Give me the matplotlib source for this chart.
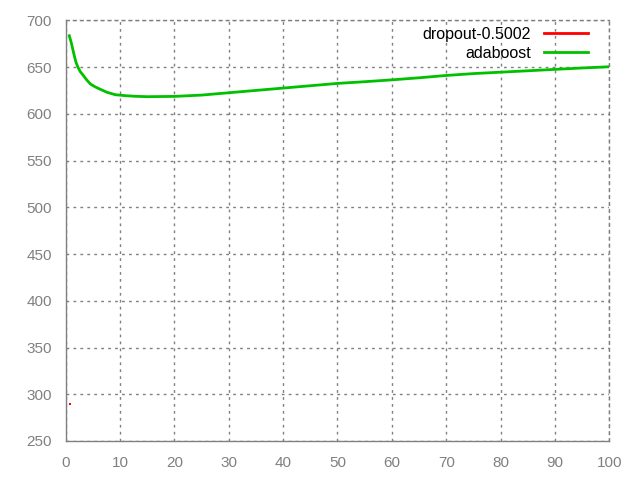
import matplotlib
matplotlib.use("Agg")
import matplotlib.pyplot as plt

# Data
dropout_x = [0.8]
dropout_y = [290]

ada_x = [0.66, 0.98, 1.29, 1.58, 1.89, 2.26, 2.69, 3.18, 3.73, 4.53, 5.45, 6.36,
         7.6, 9.12, 10.96, 12.8, 15, 20, 25, 30, 35, 40, 45,
         50, 55, 60, 65, 70, 75, 80, 85, 90, 95, 100]
ada_y = [683.5, 677.1, 669.3, 662.1, 655.1, 649.7, 645, 641.5, 637.2, 631.9, 628.7,
         626.2, 623, 620.4, 619.4, 618.7, 618.3, 618.6, 620,
         622.5, 625, 627.5, 630, 632.5, 634.3, 636.3, 638.5, 641, 643, 644.5, 646,
         647.5, 649, 650.3]

x_ticks = list(range(0, 101, 10))
y_ticks = list(range(250, 701, 50))

plt.rcParams['font.family'] = ['Liberation Sans', 'DejaVu Sans']

fig = plt.figure(figsize=(6.4, 4.8), dpi=100)
ax = fig.add_axes([65.7/640, 39/480, (609.3-65.7)/640, (441-20.3)/480])

ax.plot(dropout_x, dropout_y, color='#ff0000', linewidth=1.5, label='dropout-0.5002',
        marker='s', markersize=2, markeredgewidth=0)
ax.plot(ada_x, ada_y, color='#00c000', linewidth=2, label='adaboost')

ax.set_xlim(0, 100)
ax.set_ylim(250, 700)
ax.set_xticks(x_ticks)
ax.set_yticks(y_ticks)
ax.grid(True, color='#808080', linestyle=(0, (2, 3)), linewidth=1)
for s in ax.spines.values():
    s.set_color('#808080')
    s.set_linewidth(1)
ax.spines['top'].set_linestyle((0, (2, 3)))
ax.spines['right'].set_linestyle((0, (2, 3)))
ax.tick_params(direction='in', length=0, colors='#808080', labelsize=11, pad=10)
ax.tick_params(axis='x', pad=11)

leg = ax.legend(loc='upper right', markerfirst=False, frameon=False, fontsize=11.5,
                handlelength=2.8, borderaxespad=0.0, labelspacing=0.25,
                bbox_to_anchor=(0.973, 1.0))
for t in leg.get_texts():
    t.set_color('#000000')
for h in leg.legend_handles:
    h.set_linewidth(2)
    h.set_marker('')

fig.savefig('out.png', dpi=100)
